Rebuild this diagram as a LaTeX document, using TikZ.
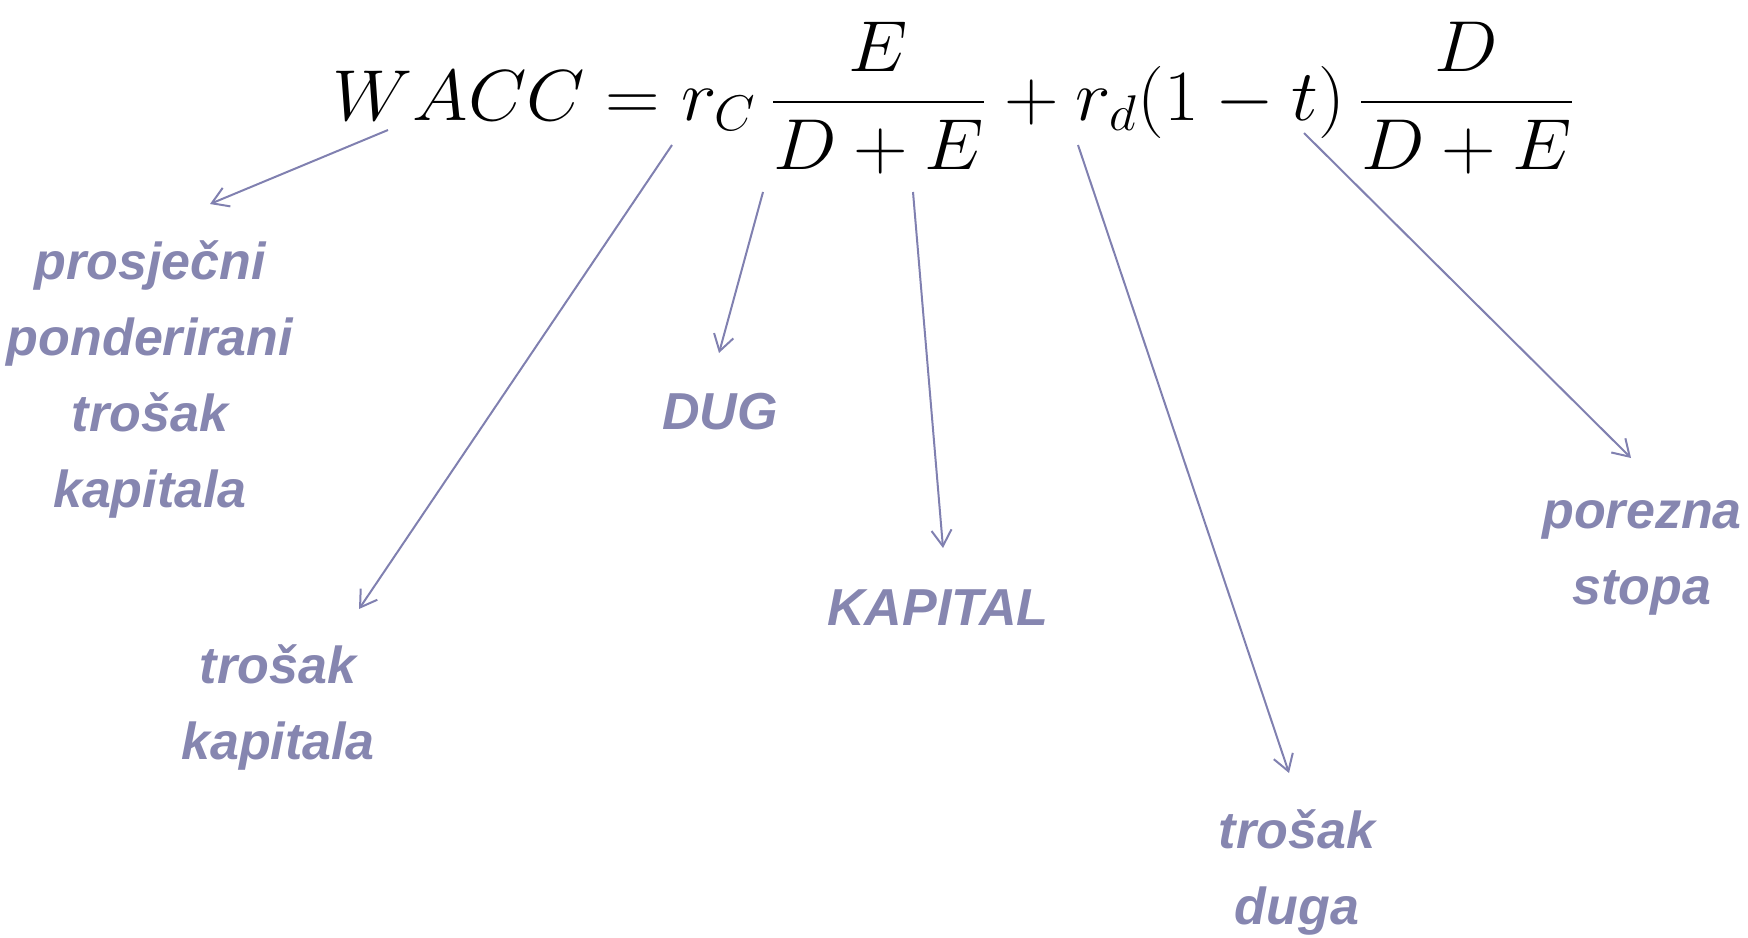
\documentclass[tikz,border=0pt]{standalone}
\usepackage{fontspec}
\newfontfamily\labelfont{Liberation Sans}
\usetikzlibrary{arrows.meta}
\DeclareMathSizes{24.88}{24.88}{17.28}{12}
\definecolor{wacclila}{HTML}{8686B0}
\definecolor{strelica}{HTML}{8080B0}
\tikzset{
 lbl/.style={text=wacclila,align=center,inner sep=0pt,
  font=\labelfont\bfseries\itshape\fontsize{26}{38}\selectfont},
 pokaz/.style={draw=strelica,line width=1pt,-{Straight Barb[length=8pt,width=10pt]}}
}

\begin{document}
\begin{tikzpicture}[x=0.5pt,y=-0.5pt]
\useasboundingbox (0,0) rectangle (1748,937);
\node[anchor=base west,inner sep=0pt,font=\fontsize{24.88}{30}\selectfont] (formula) at (332,120)
 {\scalebox{1.52}[1.45]{$\displaystyle WACC = r_C\,\frac{E}{D+E} + r_d(1-t)\,\frac{D}{D+E}$}};
% oznake
\node[lbl] (wacc) at (150,379) {prosječni\\ponderirani\\trošak\\kapitala};
\node[lbl] (rc) at (278,707) {trošak\\kapitala};
\node[lbl] (dug) at (720,412) {DUG};
\node[lbl] (kap) at (938,608) {KAPITAL};
\node[lbl] (rd) at (1297,872) {trošak\\duga};
\node[lbl] (por) at (1642,558) {porezna\\stopa};
% strelice
\coordinate (wacc-a) at (388,130); \coordinate (wacc-b) at (210,204);
\coordinate (rc-a) at (672,145);   \coordinate (rc-b) at (359,609);
\coordinate (dug-a) at (763,192);  \coordinate (dug-b) at (719,353);
\coordinate (kap-a) at (913,192);  \coordinate (kap-b) at (943,548);
\coordinate (rd-a) at (1078,145);  \coordinate (rd-b) at (1289,773);
\coordinate (por-a) at (1304,133); \coordinate (por-b) at (1631,458);
\foreach \s in {wacc,rc,dug,kap,rd,por}
 \draw[pokaz] (\s-a) -- (\s-b);
\end{tikzpicture}
\end{document}
